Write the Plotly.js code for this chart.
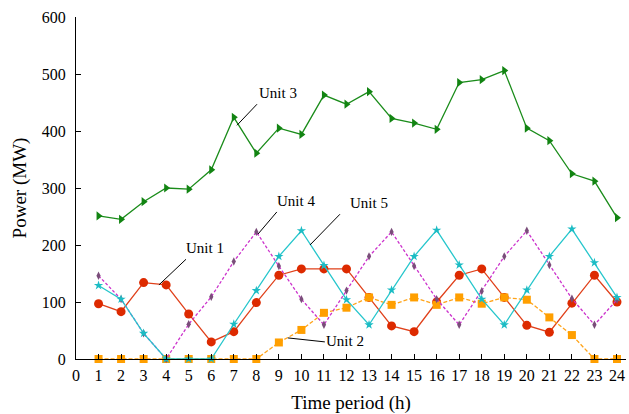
<!DOCTYPE html>
<html><head><meta charset="utf-8">
<script src="https://cdn.plot.ly/plotly-3.0.1.min.js"></script>
<style>html,body{margin:0;padding:0;background:#fff}#chart{width:629px;height:414px}</style>
</head><body><div id="chart"></div>
<script>
var hours = [1,2,3,4,5,6,7,8,9,10,11,12,13,14,15,16,17,18,19,20,21,22,23,24];
var unit1 = [97,83,134,130,79,30,48,99,147,158,158,158,108,58,48,100,147,158,108,59,47,98,147,100];
var unit2 = [0,0,0,0,0,0,0,0,29,51,81,90,108,95,108,95,108,97,108,104,73,42,0,0];
var unit3 = [251,245,276,300,298,332,424,361,405,394,463,447,469,422,414,403,485,490,506,405,383,325,312,248];
var unit4 = [146,105,45,0,61,109,171,223,163,105,60,120,180,223,163,105,60,119,180,225,165,106,60,104];
var unit5 = [129,105,45,0,0,0,61,120,180,225,164,104,60,121,180,226,165,105,60,121,180,228,169,108];
var xTicks = [0,1,2,3,4,5,6,7,8,9,10,11,12,13,14,15,16,17,18,19,20,21,22,23,24];
var yTicks = [0,100,200,300,400,500,600];
var labels = [
  {name:'Unit 1', text:[5.72,195], line:[[4.88,175],[3.68,130]]},
  {name:'Unit 2', text:[11.95,32], line:[[9.4,37],[11.04,30]]},
  {name:'Unit 3', text:[8.96,467], line:[[8.03,447],[7.14,410]]},
  {name:'Unit 4', text:[9.76,277], line:[[8.91,258],[8.07,219]]},
  {name:'Unit 5', text:[12.99,274], line:[[11.71,254],[10.38,200]]}
];
var font = 'Liberation Serif';
function tr(y, color, mcolor, sym, size, dash){
  return {x:hours, y:y, type:'scatter', mode:'lines+markers', cliponaxis:false,
    line:{color:color, width:1.3, dash:dash||'solid'},
    marker:{color:mcolor, symbol:sym, size:size, line:{width:0}}, showlegend:false};
}
var data = [
  tr(unit1,'#e0401a','#dd2a00','circle',9,'solid'),
  tr(unit2,'#ffa41a','#ff9f00','square',8,'4px,2px'),
  tr(unit3,'#1a8c1a','#128412','triangle-right',8,'solid'),
  tr(unit4,'#cc33cc','#7a4d7a','diamond-tall',6,'3px,2px'),
  tr(unit5,'#26c6cc','#1cbcc4','star',7,'solid')
];
var shapes = labels.map(function(l){return {type:'line', xref:'x', yref:'y',
  x0:l.line[0][0], y0:l.line[0][1], x1:l.line[1][0], y1:l.line[1][1], line:{color:'#000', width:1}};});
var annotations = labels.map(function(l){return {x:l.text[0], y:l.text[1], xref:'x', yref:'y',
  text:l.name, showarrow:false, font:{family:font, size:15, color:'#000'}};});
var layout = {
  width:629, height:414, margin:{l:76, r:3, t:17, b:55},
  paper_bgcolor:'#fff', plot_bgcolor:'#fff',
  font:{family:font, size:15, color:'#000'},
  xaxis:{range:[0,24.4], tickvals:xTicks, ticktext:xTicks.map(String), ticks:'inside', ticklen:5, tickcolor:'#000',
    showline:true, linecolor:'#000', linewidth:1, showgrid:false, zeroline:false, ticklabelstandoff:2,
    tickfont:{family:font, size:16},
    title:{text:'Time period (h)', font:{family:font, size:19}, standoff:12}},
  yaxis:{range:[0,600], tickvals:yTicks, ticktext:yTicks.map(String), ticks:'inside', ticklen:5, tickcolor:'#000',
    showline:true, linecolor:'#000', linewidth:1, showgrid:false, zeroline:false, ticklabelstandoff:6,
    tickfont:{family:font, size:16},
    title:{text:'Power (MW)', font:{family:font, size:19}, standoff:10}},
  shapes:shapes, annotations:annotations
};
Plotly.newPlot('chart', data, layout, {displayModeBar:false, staticPlot:true});
</script></body></html>
